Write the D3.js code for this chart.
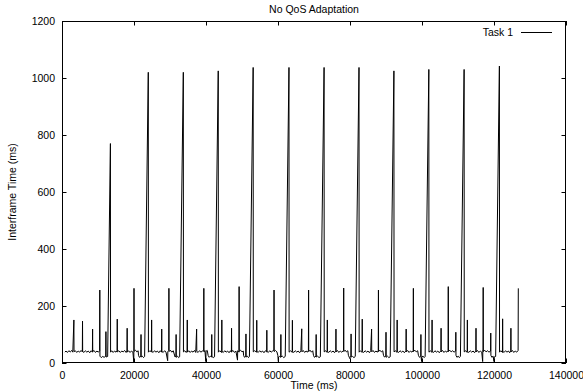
<!DOCTYPE html>
<html>
<head>
<meta charset="utf-8">
<script src="https://cdn.jsdelivr.net/npm/d3@7"></script>
<style>
  body { margin: 0; background: #fff; }
  svg { display: block; font-family: "Liberation Sans", Arial, Helvetica, sans-serif; }
</style>
</head>
<body>
<svg class="canvas" width="583" height="392"></svg>
<script>
// interframe times, one run of frames between the long stalls

let peakTimes = [13450, 23970, 33700, 43400, 53100, 63050, 72800, 82500, 92200, 101900, 111700, 121500];
let peakValues = [770, 1020, 1020, 1025, 1037, 1037, 1037, 1037, 1025, 1030, 1030, 1042];

let run0 = [[800,38],[1100,42],[1500,37],[1900,43],[2300,39],[2700,44],[3000,38],[3300,151],[3340,40],[3700,43],[4100,37],[4500,42],[4900,38],[5300,44],[5650,39],[5700,147],[5740,41],[6100,37],[6500,43],[6900,38],[7300,42],[7700,36],[8100,43],[8450,38],[8500,119],[8540,40],[8900,44],[9300,37],[9700,42],[10100,38],[10450,43],[10500,256],[10540,24],[10900,19],[11300,23],[11700,20],[12150,24],[12200,110],[12240,21],[12680,23]];
let run1 = [[13490,38],[13800,43],[14200,37],[14600,42],[15000,38],[15300,44],[15350,154],[15390,39],[15800,43],[16200,37],[16600,42],[17000,39],[17400,44],[17800,37],[18050,42],[18100,122],[18140,38],[18500,43],[18900,37],[19300,42],[19700,38],[19950,3],[20000,262],[20040,41],[20400,45],[20800,39],[21150,43],[21250,27],[21500,20],[21900,23],[21950,100],[21990,21],[22300,24],[22650,19],[22950,23]];
let run2 = [[24010,38],[24400,43],[24850,39],[24900,151],[24940,41],[25300,37],[25700,43],[26100,38],[26500,42],[26900,36],[27300,43],[27650,38],[27700,119],[27740,41],[28100,37],[28500,43],[28900,38],[29350,8],[29400,40],[29650,44],[29700,262],[29740,40],[30100,45],[30500,38],[30900,43],[31250,28],[31400,21],[31650,24],[31700,100],[31740,20],[32100,24],[32400,19],[32680,22]];
let run3 = [[33740,39],[34100,43],[34500,37],[34750,42],[34800,151],[34840,38],[35200,43],[35600,37],[36000,42],[36400,38],[36800,44],[37150,37],[37400,119],[37440,41],[37800,37],[38200,43],[38600,38],[39000,42],[39350,44],[39400,262],[39440,39],[39700,44],[39950,5],[40000,41],[40350,44],[40600,26],[40900,20],[41200,24],[41550,21],[41600,100],[41640,23],[42000,19],[42375,22]];
let run4 = [[43440,38],[43800,43],[44350,37],[44400,151],[44440,41],[44800,37],[45200,43],[45600,38],[46000,42],[46400,36],[46800,43],[47050,38],[47100,122],[47140,40],[47500,44],[47900,37],[48300,42],[48750,10],[48800,43],[49150,38],[49200,268],[49240,41],[49600,45],[50000,39],[50350,42],[50450,26],[50700,20],[51050,23],[51100,102],[51140,21],[51500,24],[51800,19],[52063,23]];
let run5 = [[53140,39],[53500,43],[54050,38],[54100,150],[54140,41],[54500,37],[54900,43],[55300,38],[55700,42],[56100,36],[56500,43],[56850,39],[56900,115],[56940,41],[57300,37],[57700,43],[58100,38],[58500,42],[58850,45],[58900,256],[58940,40],[59300,44],[59700,39],[59950,27],[60100,5],[60150,21],[60400,23],[60750,20],[60800,100],[60840,22],[61200,24],[61600,19],[62013,23]];
let run6 = [[63090,38],[63500,43],[63950,37],[64000,150],[64040,41],[64400,37],[64800,43],[65200,38],[65600,42],[66000,36],[66350,43],[66600,120],[66640,39],[67000,44],[67400,37],[67800,42],[68150,38],[68450,44],[68500,256],[68540,40],[68900,45],[69300,38],[69650,43],[69850,27],[70100,20],[70550,24],[70600,100],[70640,21],[71000,24],[71400,19],[71763,22]];
let run7 = [[72840,39],[73250,43],[73650,37],[73700,151],[73740,41],[74100,37],[74500,43],[74900,38],[75300,42],[75700,36],[76050,43],[76100,119],[76140,39],[76500,44],[76900,37],[77300,42],[77700,38],[78200,44],[78250,263],[78290,40],[78650,45],[79000,39],[79400,43],[79550,27],[79800,20],[80000,15],[80050,22],[80250,24],[80300,102],[80340,21],[80700,23],[81100,19],[81463,23]];
let run8 = [[82540,38],[82900,43],[83350,37],[83400,154],[83440,41],[83800,37],[84200,43],[84600,38],[85000,42],[85400,36],[85750,43],[86000,119],[86040,39],[86400,44],[86800,37],[87200,42],[87600,38],[87850,44],[87900,256],[87940,40],[88300,45],[88700,39],[89100,43],[89300,27],[89550,21],[89950,24],[90000,108],[90040,20],[90400,24],[90800,19],[91175,22]];
let run9 = [[92240,39],[92650,43],[93050,37],[93100,151],[93140,41],[93500,37],[93900,43],[94300,38],[94700,42],[95100,36],[95550,43],[95600,119],[95640,39],[96000,44],[96400,37],[96800,42],[97200,38],[97550,44],[97600,262],[97640,40],[98000,45],[98400,39],[98800,43],[99000,27],[99300,20],[99650,24],[99700,100],[99740,21],[99900,5],[99950,22],[100300,24],[100600,19],[100870,23]];
let run10 = [[101940,38],[102350,43],[102750,37],[102800,151],[102840,41],[103200,37],[103600,43],[104000,38],[104400,42],[104800,36],[105250,43],[105300,122],[105340,39],[105700,44],[106100,37],[106500,42],[106900,38],[107250,44],[107300,268],[107340,40],[107700,45],[108100,39],[108500,43],[108900,38],[109350,42],[109400,108],[109440,27],[109700,20],[110050,24],[110350,19],[110670,23]];
let run11 = [[111740,39],[112150,43],[112550,37],[112600,151],[112640,41],[113000,37],[113400,43],[113800,38],[114200,42],[114600,36],[114950,43],[115000,122],[115040,39],[115400,44],[115800,37],[116200,42],[116600,38],[116850,5],[116900,44],[116950,43],[117000,265],[117040,40],[117400,45],[117800,39],[118200,43],[118600,38],[119050,42],[119100,105],[119140,27],[119400,20],[119750,24],[120000,5],[120050,21],[120458,23]];
let run12 = [[121540,38],[121900,43],[122350,37],[122400,155],[122440,41],[122800,37],[123200,43],[123600,38],[124000,42],[124350,36],[124650,43],[124700,122],[124740,39],[125100,44],[125500,37],[125900,42],[126300,38],[126700,44],[126750,262]];

let runs = [run0, run1, run2, run3, run4, run5, run6, run7, run8, run9, run10, run11, run12];

let xTicks = [0, 20000, 40000, 60000, 80000, 100000, 120000, 140000];
let yTicks = [0, 200, 400, 600, 800, 1000, 1200];

let width = 583;
let height = 392;
let margin = {top: 21, right: 17, bottom: 29, left: 62};
let tick = 4.5;

let canvas = d3.select('.canvas');

// stitch the runs together, each stall peak sits after its run
let frames = [];
runs.forEach((run, i) => {
  run.forEach(p => frames.push(p));
  if (i < peakTimes.length) {
    frames.push([peakTimes[i], peakValues[i]]);
  }
});

let xScale = d3.scaleLinear().
  domain([0, 140000]).
  range([margin.left, width - margin.right]);

let yScale = d3.scaleLinear().
  domain([0, 1200]).
  range([height - margin.bottom, margin.top]);

let styleAxis = g => {
  g.select('.domain').remove();
  g.selectAll('line').attr('stroke', '#000');
  g.selectAll('text').
    attr('fill', '#000').
    style('font-size', '10.5px');
};

canvas.append('g').
  attr('transform', 'translate(0,' + (height - margin.bottom) + ')').
  call(d3.axisBottom(xScale).tickValues(xTicks).tickFormat(d3.format('d')).
    tickSizeInner(-tick).tickSizeOuter(0).tickPadding(9)).
  call(styleAxis);

canvas.append('g').
  attr('transform', 'translate(0,' + margin.top + ')').
  call(d3.axisTop(xScale).tickValues(xTicks).tickFormat('').
    tickSizeInner(-tick).tickSizeOuter(0)).
  call(styleAxis);

canvas.append('g').
  attr('transform', 'translate(' + margin.left + ',0)').
  call(d3.axisLeft(yScale).tickValues(yTicks).tickFormat(d3.format('d')).
    tickSizeInner(-tick).tickSizeOuter(0).tickPadding(7)).
  call(styleAxis);

canvas.append('g').
  attr('transform', 'translate(' + (width - margin.right) + ',0)').
  call(d3.axisRight(yScale).tickValues(yTicks).tickFormat('').
    tickSizeInner(-tick).tickSizeOuter(0)).
  call(styleAxis);

let line = d3.line().
  x(d => xScale(d[0])).
  y(d => yScale(d[1]));

canvas.append('path').
  datum(frames).
  attr('d', line).
  attr('fill', 'none').
  attr('stroke', '#000').
  attr('stroke-width', 1);

// border
canvas.append('rect').
  attr('x', margin.left + 0.5).
  attr('y', margin.top + 0.5).
  attr('width', width - margin.left - margin.right - 1).
  attr('height', height - margin.top - margin.bottom - 1).
  attr('fill', 'none').
  attr('stroke', '#000');

canvas.append('text').
  attr('x', (margin.left + width - margin.right) / 2).
  attr('y', 13).
  attr('text-anchor', 'middle').
  style('font-size', '10.5px').
  text('No QoS Adaptation');

canvas.append('text').
  attr('x', (margin.left + width - margin.right) / 2).
  attr('y', 389).
  attr('text-anchor', 'middle').
  style('font-size', '10.5px').
  text('Time (ms)');

canvas.append('text').
  attr('transform', 'translate(16,' + (margin.top + height - margin.bottom) / 2 + ') rotate(-90)').
  attr('text-anchor', 'middle').
  style('font-size', '10.5px').
  text('Interframe Time (ms)');

// legend
canvas.append('text').
  attr('x', 513).
  attr('y', 36).
  attr('text-anchor', 'end').
  style('font-size', '10.5px').
  text('Task 1');

canvas.append('line').
  attr('x1', 521).
  attr('x2', 552).
  attr('y1', 32.5).
  attr('y2', 32.5).
  attr('stroke', '#000');
</script>
</body>
</html>
